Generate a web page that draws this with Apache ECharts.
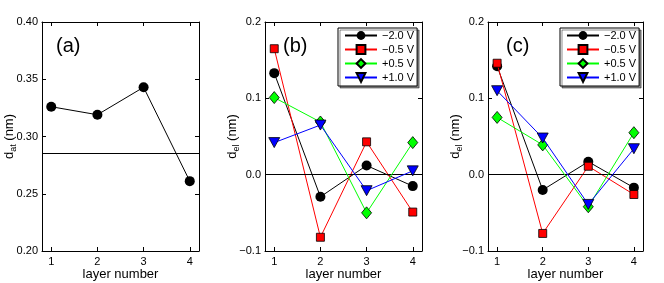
<!DOCTYPE html>
<html><head><meta charset="utf-8">
<script src="https://cdn.jsdelivr.net/npm/echarts@6/dist/echarts.min.js"></script>
<style>html,body{margin:0;padding:0;background:#fff}#c{width:664px;height:283px}</style>
</head><body><div id="c"></div>
<script>
// ---- data ----
const layers = [1, 2, 3, 4];
const datA = [0.326, 0.319, 0.343, 0.261];
const refLineA = 0.285;
const seriesNames = ['\u22122.0 V', '\u22120.5 V', '+0.5 V', '+1.0 V'];
const delB_m20 = [0.133, -0.029, 0.012, -0.015];
const delB_m05 = [0.165, -0.082, 0.043, -0.049];
const delB_p05 = [0.101, 0.069, -0.050, 0.042];
const delB_p10 = [0.042, 0.065, -0.021, 0.005];
const delC_m20 = [0.142, -0.020, 0.017, -0.017];
const delC_m05 = [0.146, -0.077, 0.011, -0.026];
const delC_p05 = [0.075, 0.039, -0.042, 0.055];
const delC_p10 = [0.110, 0.048, -0.039, 0.034];
const panelLabels = ['(a)', '(b)', '(c)'];
const xAxisTitle = 'layer number';

// ---- styles ----
const FONT = '"Liberation Sans", Arial, Helvetica, sans-serif';
const colors = ['#000000', '#ff0000', '#00ff00', '#0000ff'];
const symbols = ['circle', 'rect', 'diamond', 'triangle'];
const symSizes = [10, 8, [10, 12], [11, 10]];
const symRot = [0, 0, 0, 180];

const grids = [
  {left: 42, top: 22, width: 157, height: 229, outerBoundsMode: 'none', containLabel: false},
  {left: 265, top: 22, width: 157, height: 229, outerBoundsMode: 'none', containLabel: false},
  {left: 488, top: 22, width: 155, height: 229, outerBoundsMode: 'none', containLabel: false}
];

function fmtSigned(v, d) {
  const r = Math.round(v * Math.pow(10, d)) / Math.pow(10, d);
  return (r < 0 ? '\u2212' : '') + Math.abs(r).toFixed(d);
}

const xAxes = [], yAxes = [], series = [];
const yRanges = [
  {min: 0.2, max: 0.4, interval: 0.05, dec: 2, name: '{m|d}{s|at}{m| (nm)}'},
  {min: -0.1, max: 0.2, interval: 0.1, dec: 1, name: '{m|d}{s|el}{m| (nm)}'},
  {min: -0.1, max: 0.2, interval: 0.1, dec: 1, name: '{m|d}{s|el}{m| (nm)}'}
];
const axisLineStyle = {show: true, onZero: false, lineStyle: {color: '#000', width: 1}};
for (let g = 0; g < 3; g++) {
  const base = {gridIndex: g, type: 'value', min: 0.8, max: 4.2, splitLine: {show: false}, axisLine: axisLineStyle};
  xAxes.push(Object.assign({}, base, {
    position: 'bottom',
    name: xAxisTitle, nameLocation: 'middle', nameGap: 17, nameMoveOverlap: false,
    nameTextStyle: {fontFamily: FONT, fontSize: 13, color: '#000'},
    axisTick: {inside: true, length: 4, customValues: layers, lineStyle: {color: '#000'}},
    axisLabel: {customValues: layers, margin: 5, fontFamily: FONT, fontSize: 11, color: '#000'}
  }));
  xAxes.push(Object.assign({}, base, {
    position: 'top',
    axisTick: {inside: true, length: 4, customValues: layers, lineStyle: {color: '#000'}},
    axisLabel: {show: false}
  }));
  const yr = yRanges[g];
  const ybase = {gridIndex: g, type: 'value', min: yr.min, max: yr.max, interval: yr.interval,
    splitLine: {show: false}, axisLine: axisLineStyle};
  yAxes.push(Object.assign({}, ybase, {
    position: 'left',
    name: yr.name, nameLocation: 'middle', nameGap: 24, nameRotate: 90, nameMoveOverlap: false,
    nameTextStyle: {color: '#000', rich: {
      m: {fontFamily: FONT, fontSize: 13, color: '#000'},
      s: {fontFamily: FONT, fontSize: 9, color: '#000', padding: [8, 0, 0, 0]}
    }},
    axisTick: {inside: true, length: 4, lineStyle: {color: '#000'}},
    axisLabel: {margin: 4, fontFamily: FONT, fontSize: 11, color: '#000',
      formatter: (v) => fmtSigned(v, yr.dec)}
  }));
  yAxes.push(Object.assign({}, ybase, {
    position: 'right',
    axisTick: {inside: true, length: 4, lineStyle: {color: '#000'}},
    axisLabel: {show: false}
  }));
}

function markLineAt(v) {
  return {silent: true, symbol: ['none', 'none'], label: {show: false}, precision: 6,
    lineStyle: {color: '#000', type: 'solid', width: 1}, data: [{yAxis: v}], animation: false};
}

// panel (a)
series.push({
  type: 'line', name: 'dat', xAxisIndex: 0, yAxisIndex: 0,
  data: layers.map((x, i) => [x, datA[i]]),
  symbol: 'circle', symbolSize: 10,
  itemStyle: {color: '#000'}, lineStyle: {color: '#000', width: 1},
  markLine: markLineAt(refLineA), z: 3
});

const setsB = [delB_m20, delB_m05, delB_p05, delB_p10];
const setsC = [delC_m20, delC_m05, delC_p05, delC_p10];
[[setsB, 1], [setsC, 2]].forEach(([sets, g]) => {
  sets.forEach((arr, k) => {
    series.push({
      type: 'line', name: seriesNames[k], xAxisIndex: 2 * g, yAxisIndex: 2 * g,
      data: layers.map((x, i) => [x, arr[i]]),
      symbol: symbols[k], symbolSize: symSizes[k], symbolRotate: symRot[k],
      itemStyle: {color: colors[k], borderColor: '#000', borderWidth: k === 0 ? 0 : 0.8},
      lineStyle: {color: colors[k], width: 1},
      markLine: k === 0 ? markLineAt(0) : undefined,
      z: 3 + k
    });
  });
});

const legendBase = {
  orient: 'vertical', data: seriesNames, itemWidth: 32, itemHeight: 11, itemGap: 3,
  padding: [2, 3, 3, 6], borderColor: '#000', borderWidth: 1, borderRadius: 0,
  backgroundColor: '#fff', shadowColor: 'rgba(0,0,0,0.45)', shadowOffsetX: 2, shadowOffsetY: 2, shadowBlur: 0,
  textStyle: {fontFamily: FONT, fontSize: 11, color: '#000'}, selectedMode: false
};

const labelPos = [[56, 47.5], [283, 47.5], [506, 47.5]];
const chart = echarts.init(document.getElementById('c'), null, {renderer: 'canvas'});
chart.setOption({
  animation: false,
  backgroundColor: '#fff',
  grid: grids,
  xAxis: xAxes,
  yAxis: yAxes,
  legend: [Object.assign({}, legendBase, {left: 338, top: 28}), Object.assign({}, legendBase, {left: 560, top: 28})],
  graphic: panelLabels.map((t, i) => ({
    type: 'text', left: labelPos[i][0], top: labelPos[i][1] - 11, z: 10,
    style: {text: t, fontFamily: FONT, fontSize: 20, fill: '#000'}
  })),
  series: series
});
</script></body></html>
